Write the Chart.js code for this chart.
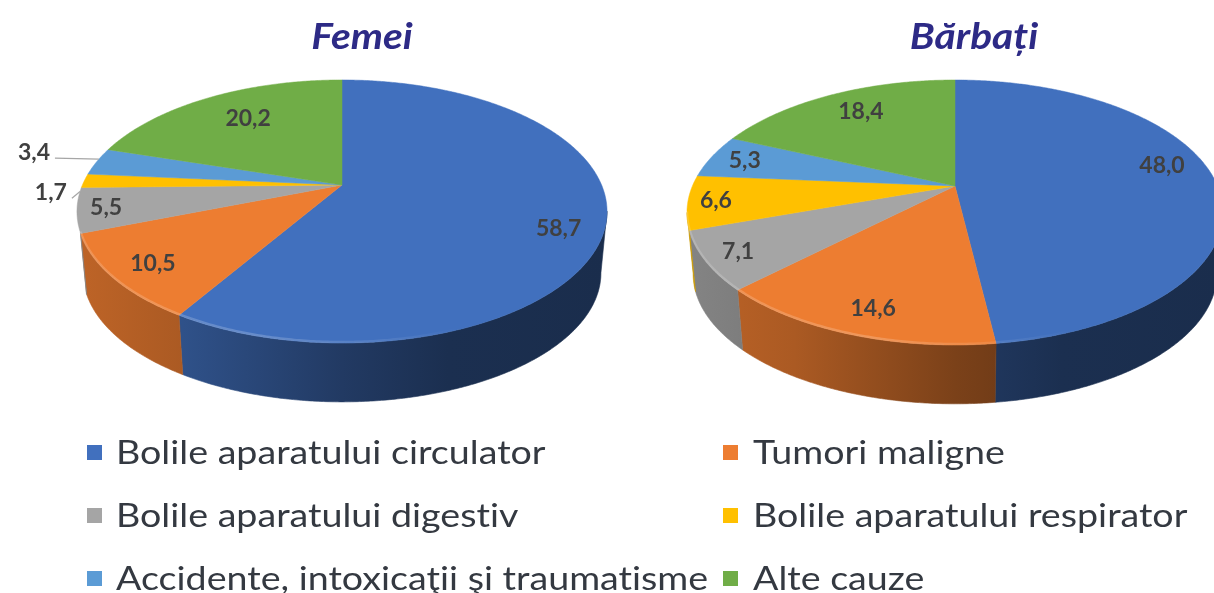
<!DOCTYPE html>
<html lang="ro">
<head>
<meta charset="utf-8">
<script src="https://cdn.jsdelivr.net/npm/chart.js@4"></script>
<style>
html,body{margin:0;padding:0;background:#fff;overflow:hidden}
#stage{position:relative;width:1214px;height:593px;overflow:hidden;filter:blur(.45px)}
canvas{position:absolute;left:0;top:0}
.title{position:absolute;top:12px;font:italic 700 37px Lato,sans-serif;color:#2d2a86;transform:translateX(-50%) scaleX(1.1);white-space:nowrap;line-height:46px}
.item{position:absolute;font:400 33px Lato,sans-serif;font-variant-ligatures:none;color:#343941;white-space:nowrap;line-height:40px;transform:scaleX(1.14);transform-origin:left center}
.swatch{position:absolute;width:15px;height:15px}
</style>
</head>
<body>
<div id="stage">
<canvas id="femei" width="1214" height="593"></canvas>
<canvas id="barbati" width="1214" height="593"></canvas>
</div>
<script>
const categories = ["Bolile aparatului circulator","Tumori maligne","Bolile aparatului digestiv","Bolile aparatului respirator","Accidente, intoxicaţii şi traumatisme","Alte cauze"];
const femeiValues = [58.7,10.5,5.5,1.7,3.4,20.2];
const barbatiValues = [48.0,14.6,7.1,6.6,5.3,18.4];
const colors = ["#4170be","#ed7d31","#a5a5a5","#ffc000","#5b9bd5","#70ad47"];
const titles = ["Femei","Bărbați"];

/* label placement in pie terms: [radius fraction, degrees from slice middle] */
const femeiLabelPlace = [[.845,7],[.85,-.6],[.894,0],[1.11,-4.9],[1.282,1.2],[.711,1.7]];
const barbatiLabelPlace = [[.83,-7.7],[.847,-1.1],[.882,0],[.897,0],[.861,0],[.773,1.5]];

const mix = (hex,f)=>{const n=parseInt(hex.slice(1),16);
  return `rgb(${Math.round((n>>16&255)*f)},${Math.round((n>>8&255)*f)},${Math.round((n&255)*f)})`;};
const shadeStops = [[0,.80],[.2,.72],[.5,.52],[.7,.42],[1,.40]];

const pie3d = {
  id:'pie3d',
  beforeDatasetDraw(){return false;},
  afterDatasetsDraw(chart,args,o){
    const ctx=chart.ctx, els=chart.getDatasetMeta(0).data, vals=chart.data.datasets[0].data;
    const proj=(th,r=1)=>{const u=Math.sin(th)*r,v=-Math.cos(th)*r,d=1+o.a*v;
      return [o.s*u/d,o.t*v/d];};
    const top=(th,r)=>{const p=proj(th,r);return [o.cx+p[0],o.cy+p[1]];};
    const bottom=th=>{const p=proj(th);return [o.cx+p[0]*.977,o.cy+p[1]*.98+o.depth];};
    const step=Math.PI/180/2;
    const fStart=101.5*Math.PI/180,fEnd=o.frontEnd*Math.PI/180;
    const rx=o.s/Math.sqrt(1-o.a*o.a);
    const angles=el=>[el.startAngle+Math.PI/2,el.endAngle+Math.PI/2];
    ctx.save();
    /* sides */
    els.forEach((el,i)=>{
      let [a0,a1]=angles(el);
      a0=Math.max(a0,fStart);a1=Math.min(a1,fEnd);
      if(a1<=a0)return;
      const g=ctx.createLinearGradient(o.cx-rx,0,o.cx+rx,0);
      shadeStops.forEach(([p,f])=>g.addColorStop(p,mix(colors[i],f)));
      ctx.beginPath();
      for(let a=a0;a<a1;a+=step){const p=top(a);ctx.lineTo(p[0],p[1]);}
      let p=top(a1);ctx.lineTo(p[0],p[1]);
      for(let a=a1;a>a0;a-=step){p=bottom(a);ctx.lineTo(p[0],p[1]);}
      p=bottom(a0);ctx.lineTo(p[0],p[1]);
      ctx.closePath();
      ctx.fillStyle=g;ctx.strokeStyle=g;ctx.lineWidth=.6;ctx.fill();ctx.stroke();
    });
    /* top faces */
    els.forEach((el,i)=>{
      const [a0,a1]=angles(el);
      ctx.beginPath();ctx.moveTo(o.cx,o.cy);
      for(let a=a0;a<a1;a+=step){const p=top(a);ctx.lineTo(p[0],p[1]);}
      const p=top(a1);ctx.lineTo(p[0],p[1]);ctx.closePath();
      ctx.fillStyle=el.options.backgroundColor;ctx.strokeStyle=el.options.backgroundColor;
      ctx.lineWidth=.5;ctx.fill();ctx.stroke();
    });
    /* lit rim on the front edge */
    const hg=ctx.createLinearGradient(o.cx-rx,0,o.cx+rx,0);
    hg.addColorStop(0,'rgba(255,255,255,.16)');hg.addColorStop(.35,'rgba(255,255,255,.2)');
    hg.addColorStop(.6,'rgba(255,255,255,.08)');hg.addColorStop(.72,'rgba(255,255,255,0)');
    ctx.beginPath();
    for(let a=fStart;a<fEnd;a+=step){const p=top(a);ctx.lineTo(p[0],p[1]-1);}
    ctx.strokeStyle=hg;ctx.lineWidth=2.5;ctx.stroke();
    /* value labels */
    ctx.font='700 23px Lato,sans-serif';ctx.textAlign='center';ctx.textBaseline='middle';
    els.forEach((el,i)=>{
      const [a0,a1]=angles(el);const mid=(a0+a1)/2;
      const [r,d]=o.place[i];
      const th=mid+d*Math.PI/180;
      const p=top(th,r);
      if(r>1){
        const rim=top(th,1);
        ctx.beginPath();
        ctx.moveTo(p[0]+21,p[1]+6);ctx.lineTo(rim[0],rim[1]);
        ctx.strokeStyle='#a6a6a6';ctx.lineWidth=1.2;ctx.stroke();
      }
      ctx.fillStyle='#404040';
      ctx.fillText(vals[i].toFixed(1).replace('.',','),p[0],p[1]);
    });
    ctx.restore();
  }
};

function makePie(id,values,geom){
  new Chart(document.getElementById(id),{
    type:'pie',
    data:{labels:categories,datasets:[{data:values,backgroundColor:colors,borderWidth:0}]},
    plugins:[pie3d],
    options:{responsive:false,animation:false,
      plugins:{legend:{display:false},tooltip:{enabled:false},title:{display:false},pie3d:geom}}
  });
}
makePie('femei',femeiValues,{cx:342,cy:185,a:-.2015,t:126.2,s:259.6,depth:62,frontEnd:249.5,place:femeiLabelPlace});
makePie('barbati',barbatiValues,{cx:955,cy:186,a:-.2,t:127.2,s:262.6,depth:62,frontEnd:258.5,place:barbatiLabelPlace});

/* titles and legend */
const stage=document.getElementById('stage');
[[titles[0],362],[titles[1],974]].forEach(([txt,x])=>{
  const d=document.createElement('div');d.className='title';d.textContent=txt;d.style.left=x+'px';stage.appendChild(d);
});
const colX=[[87,115.5],[723,753]], rowY=[452,515,578];
categories.forEach((c,i)=>{
  const [sx,tx]=colX[i%2], y=rowY[Math.floor(i/2)];
  const s=document.createElement('div');s.className='swatch';s.style.cssText=`left:${sx}px;top:${y-7}px;background:${colors[i]}`;stage.appendChild(s);
  const t=document.createElement('div');t.className='item';t.textContent=c;t.style.left=tx+'px';t.style.top=(y-21.5)+'px';stage.appendChild(t);
});
</script>
</body>
</html>
